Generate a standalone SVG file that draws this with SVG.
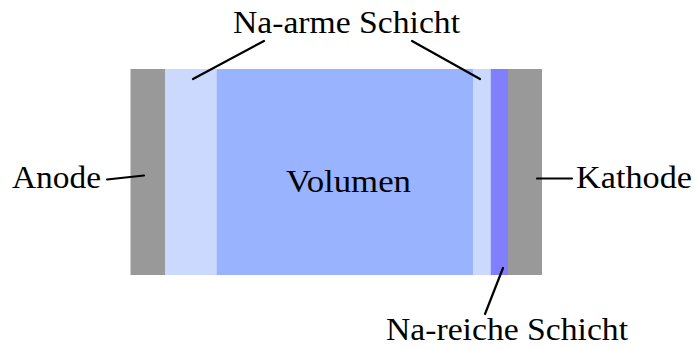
<svg xmlns="http://www.w3.org/2000/svg" width="695" height="349" viewBox="0 0 695 349">
  <style>
    .lbl { font-family: "Liberation Serif", "DejaVu Serif", serif; font-size: 31px; fill: #000; }
    .lead { stroke: #000; stroke-width: 2.2; fill: none; stroke-linecap: round; }
  </style>
  <rect x="0" y="0" width="695" height="349" fill="#ffffff"/>
  <g id="anode">
    <rect x="130.5" y="69" width="34.5" height="206" fill="#999999"/>
  </g>
  <g id="na-arm-left">
    <rect x="165" y="69" width="51.5" height="206" fill="#ccd9ff"/>
  </g>
  <g id="volumen">
    <rect x="216.5" y="69" width="257" height="206" fill="#99b3ff"/>
    <text class="lbl" x="286" y="192" textLength="125" lengthAdjust="spacingAndGlyphs">Volumen</text>
  </g>
  <g id="na-arm-right">
    <rect x="473.5" y="69" width="17.2" height="206" fill="#ccd9ff"/>
  </g>
  <g id="na-reich">
    <rect x="490.7" y="69" width="17.3" height="206" fill="#8080ff"/>
  </g>
  <g id="kathode">
    <rect x="508" y="69" width="34" height="206" fill="#999999"/>
  </g>
  <g id="labels">
    <text class="lbl" x="233" y="33" textLength="227" lengthAdjust="spacingAndGlyphs">Na-arme Schicht</text>
    <text class="lbl" x="12" y="188" textLength="89" lengthAdjust="spacingAndGlyphs">Anode</text>
    <text class="lbl" x="576" y="188" textLength="116" lengthAdjust="spacingAndGlyphs">Kathode</text>
    <text class="lbl" x="386" y="340" textLength="242" lengthAdjust="spacingAndGlyphs">Na-reiche Schicht</text>
  </g>
  <g id="connectors">
    <line class="lead" x1="193" y1="79" x2="264" y2="41"/>
    <line class="lead" x1="412" y1="41" x2="480" y2="79"/>
    <line class="lead" x1="503" y1="268" x2="485" y2="314"/>
    <line class="lead" x1="107" y1="179.5" x2="144" y2="175.5"/>
    <line class="lead" x1="537" y1="178.5" x2="572" y2="178.5"/>
  </g>
</svg>
